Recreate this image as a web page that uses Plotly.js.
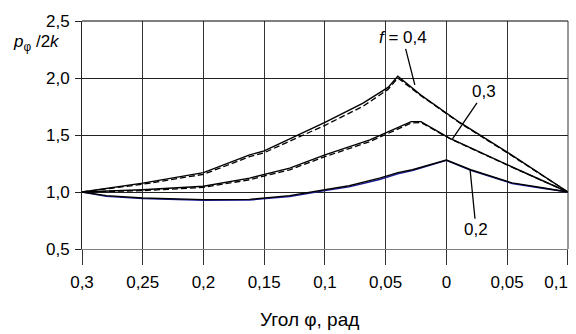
<!DOCTYPE html>
<html>
<head>
<meta charset="utf-8">
<script src="https://cdn.plot.ly/plotly-3.0.1.min.js"></script>
<style>html,body{margin:0;padding:0;background:#fff}#chart{width:576px;height:334px}</style>
</head>
<body>
<div id="chart"></div>
<script>
// angle (negative side shown as absolute values on the axis)
const xTicks = [-0.3, -0.25, -0.2, -0.15, -0.1, -0.05, 0, 0.05, 0.1];
const xTickText = ['0,3', '0,25', '0,2', '0,15', '0,1', '0,05', '0', '0,05', '0,1\u00a0\u00a0\u00a0\u00a0\u00a0'];

// f = 0,4
const x04 = [-0.3, -0.25, -0.2, -0.162, -0.15, -0.1, -0.069, -0.048, -0.04, -0.025, -0.021, 0.011, 0.05, 0.1];
const y04 = [1.0, 1.078, 1.17, 1.326, 1.36, 1.61, 1.778, 1.918, 2.016, 1.88, 1.85, 1.61, 1.35, 1.0];
const x04d = [-0.3, -0.25, -0.2, -0.162, -0.15, -0.1, -0.069, -0.048, -0.04, -0.025, -0.021, 0.011, 0.05, 0.1];
const y04d = [1.0, 1.068, 1.155, 1.31, 1.345, 1.585, 1.75, 1.9, 2.0, 1.875, 1.845, 1.605, 1.345, 1.0];

// f = 0,3
const x03 = [-0.3, -0.25, -0.2, -0.162, -0.129, -0.1, -0.063, -0.048, -0.029, -0.021, 0.0025, 0.055, 0.1];
const y03 = [1.0, 1.02, 1.05, 1.122, 1.21, 1.326, 1.457, 1.53, 1.617, 1.617, 1.472, 1.215, 1.0];
const x03d = [-0.3, -0.25, -0.2, -0.162, -0.129, -0.1, -0.063, -0.048, -0.029, -0.021, 0.0025, 0.055, 0.1];
const y03d = [1.0, 1.012, 1.04, 1.108, 1.195, 1.31, 1.442, 1.515, 1.605, 1.61, 1.47, 1.213, 1.0];

// f = 0,2
const x02 = [-0.3, -0.28, -0.25, -0.2, -0.162, -0.15, -0.129, -0.1, -0.08, -0.055, -0.04, -0.028, 0, 0.02, 0.054, 0.079, 0.1];
const y02 = [1.0, 0.968, 0.948, 0.933, 0.935, 0.945, 0.968, 1.02, 1.055, 1.122, 1.17, 1.195, 1.28, 1.195, 1.08, 1.037, 1.0];
const x02b = [-0.3, -0.28, -0.25, -0.2, -0.162, -0.15, -0.129, -0.1, -0.08, -0.055, -0.04, -0.028, 0, 0.02, 0.054, 0.079, 0.1];
const y02b = [1.0, 0.962, 0.942, 0.928, 0.93, 0.94, 0.96, 1.012, 1.045, 1.11, 1.16, 1.188, 1.278, 1.19, 1.075, 1.033, 1.0];

const solid = {color: '#000', width: 1.4};
const dashed = {color: '#000', width: 1.3, dash: '6px,3px'};

const traces = [
  {x: x04d, y: y04d, mode: 'lines', line: dashed},
  {x: x03d, y: y03d, mode: 'lines', line: dashed},
  {x: x02b, y: y02b, mode: 'lines', line: {color: '#1f1f9a', width: 1.4}},
  {x: x04, y: y04, mode: 'lines', line: solid},
  {x: x03, y: y03, mode: 'lines', line: solid},
  {x: x02, y: y02, mode: 'lines', line: solid}
];

const font = {family: 'Arial, "Liberation Sans", sans-serif', size: 17, color: '#000'};
const titleFont = {family: 'Arial, "Liberation Sans", sans-serif', size: 19, color: '#000'};

const layout = {
  width: 576, height: 334,
  margin: {l: 82, r: 8, t: 21, b: 85},
  paper_bgcolor: '#fff', plot_bgcolor: '#fff',
  showlegend: false,
  separators: ',.',
  font: font,
  xaxis: {
    range: [-0.3, 0.1001], tickvals: xTicks, ticktext: xTickText,
    ticklabeloverflow: 'allow', ticklabelstandoff: 2,
    showgrid: true, gridcolor: '#333', gridwidth: 1, zeroline: false,
    showline: true, linecolor: '#808080', linewidth: 1.3,
    ticks: 'outside', ticklen: 15, tickcolor: '#333', tickwidth: 1,
    tickfont: font, fixedrange: true, automargin: false
  },
  yaxis: {
    range: [0.5, 2.5], tickvals: [0.5, 1.0, 1.5, 2.0, 2.5], tickformat: '.1f',
    ticklabeloverflow: 'allow', ticklabelstandoff: 2,
    showgrid: true, gridcolor: '#222', gridwidth: 1, zeroline: false,
    showline: true, linecolor: '#222', linewidth: 1, mirror: false,
    ticks: 'outside', ticklen: 6, tickcolor: '#222', tickwidth: 1,
    tickfont: font, fixedrange: true, automargin: false
  },
  shapes: [
    {type: 'line', xref: 'paper', yref: 'paper', x0: 0, x1: 1, y0: 1, y1: 1, line: {color: '#000', width: 1.2}},
    {type: 'line', xref: 'paper', yref: 'paper', x0: 1, x1: 1, y0: 0, y1: 1, line: {color: '#333', width: 1}}
  ],
  annotations: [
    {xref: 'paper', yref: 'paper', x: -0.041, y: 0.9035, xanchor: 'right', yanchor: 'middle',
     text: '<i>p</i><sub>φ</sub> /2<i>k</i>', showarrow: false, font: font},
    {xref: 'paper', yref: 'paper', x: 0.469, y: -0.311, xanchor: 'center', yanchor: 'middle',
     text: 'Угол φ, рад', showarrow: false, font: titleFont},
    {x: -0.026, y: 1.94, text: '<i>f</i> = 0,4', showarrow: true, arrowhead: 0, arrowwidth: 1.3,
     arrowcolor: '#000', ax: -12, ay: -47, font: font},
    {x: 0.005, y: 1.466, text: '0,3', showarrow: true, arrowhead: 0, arrowwidth: 1.3,
     arrowcolor: '#000', ax: 32, ay: -47, font: font},
    {x: 0.0195, y: 1.195, text: '0,2', showarrow: true, arrowhead: 0, arrowwidth: 1.3,
     arrowcolor: '#000', ax: 6, ay: 60, font: font}
  ]
};

Plotly.newPlot('chart', traces, layout, {displayModeBar: false, staticPlot: true});
</script>
</body>
</html>
